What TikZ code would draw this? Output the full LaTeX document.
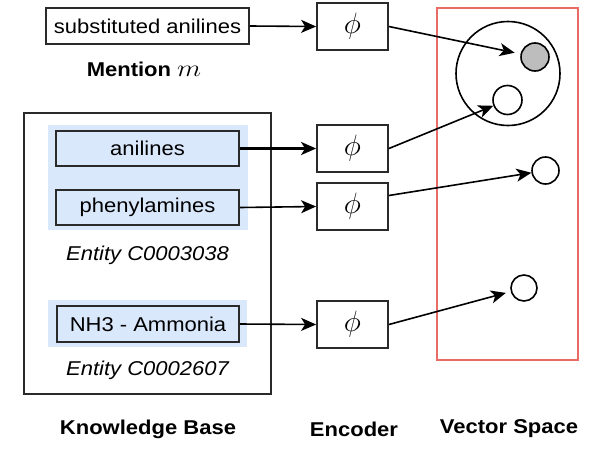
\documentclass[tikz,border=0pt]{standalone}
\usepackage{fontspec}
\setmainfont[FakeStretch=1.1]{Liberation Sans}
\usetikzlibrary{arrows.meta}
\definecolor{bdr}{HTML}{2A2A2A}
\definecolor{kbblue}{HTML}{DAE8FC}
\definecolor{vsred}{HTML}{EA6B66}
\definecolor{ptgray}{HTML}{BDBDBD}
\newcommand{\bigphi}{\scalebox{1.7}{$\phi$}}
\begin{document}
\begin{tikzpicture}[x=1pt,y=-1pt,
  txt/.style={font=\fontsize{20}{24}\selectfont, inner sep=0pt},
  plainbox/.style={draw=bdr, line width=1.8pt, txt, fill=white},
  entbox/.style={draw=bdr, line width=1.8pt, txt, fill=kbblue},
  grp/.style={fill=kbblue, draw=none, inner sep=0pt},
  kbframe/.style={draw=bdr, line width=1.8pt, inner sep=0pt},
  enc/.style={draw=bdr, line width=1.8pt, inner sep=0pt, minimum width=71pt, minimum height=47pt, font=\fontsize{17}{20}\selectfont},
  vec/.style={circle, draw=black, line width=1.6pt, inner sep=0pt, fill=white},
  arr/.style={-{Stealth[length=15pt,width=13pt,inset=4pt]}, line width=1.6pt, black},
  lab/.style={font=\bfseries\fontsize{20}{24}\selectfont, inner sep=0pt},
  ent/.style={font=\itshape\fontsize{20}{24}\selectfont, inner sep=0pt}
]
\useasboundingbox (0,0) rectangle (596,474);

% mention
\node[plainbox, minimum width=203pt, minimum height=36pt] (ment) at (147.5,26) {substituted anilines};
\node[lab] (mlab) at (144,69) {Mention \scalebox{1.35}[1.15]{$m$}};

% knowledge base
\node[kbframe, minimum width=247pt, minimum height=281pt] (kb) at (147.5,253.5) {};
\node[grp, minimum width=200pt, minimum height=105pt] (g1) at (148,177.5) {};
\node[grp, minimum width=199pt, minimum height=47pt] (g2) at (147.5,323.5) {};
\node[entbox, minimum width=183pt, minimum height=35pt] (anil) at (147.5,148.5) {anilines};
\node[entbox, minimum width=183pt, minimum height=35pt] (phen) at (147.5,207.5) {phenylamines};
\node[entbox, minimum width=182pt, minimum height=36pt] (nh3) at (148,324) {NH3 - Ammonia};
\node[ent] (e1lab) at (147.5,255) {Entity C0003038};
\node[ent] (e2lab) at (147.5,370) {Entity C0002607};

% encoders
\node[enc] (enc1) at (352.5,26.5) {\bigphi};
\node[enc] (enc2) at (352.5,148.5) {\bigphi};
\node[enc] (enc3) at (352.5,206.5) {\bigphi};
\node[enc] (enc4) at (352.5,324.5) {\bigphi};

% vector space
\node[draw=vsred, line width=2.5pt, inner sep=0pt, minimum width=141pt, minimum height=352pt] (vs) at (507.5,184) {};
\node[vec, minimum size=104pt, fill=none] (clus) at (508,73.5) {};
\node[vec, minimum size=28pt, fill=ptgray] (pm) at (535,57) {};
\node[vec, minimum size=29pt] (pa) at (507.5,100) {};
\node[vec, minimum size=27pt] (pp) at (545.5,170.5) {};
\node[vec, minimum size=26pt] (pn) at (524,288) {};

% arrows into encoders
\draw[arr] (ment.east) -- (enc1.west);
\draw[arr, line width=2.6pt] (anil.east) -- (enc2.west);
\draw[arr] (phen.east) -- (enc3.west);
\draw[arr] (nh3.east) -- (enc4.west);

% arrows into vector space
\draw[arr, shorten >=6pt] (enc1.east) -- (pm);
\draw[arr] (enc2.east) -- (pa);
\draw[arr] ([yshift=11pt]enc3.east) -- (pp);
\draw[arr, shorten >=5pt] (enc4.east) -- (pn);

% labels
\node[lab] (kblab) at (148,429) {Knowledge Base};
\node[lab] (enclab) at (354,429) {Encoder};
\node[lab] (vslab) at (509,429) {Vector Space};
\end{tikzpicture}
\end{document}
